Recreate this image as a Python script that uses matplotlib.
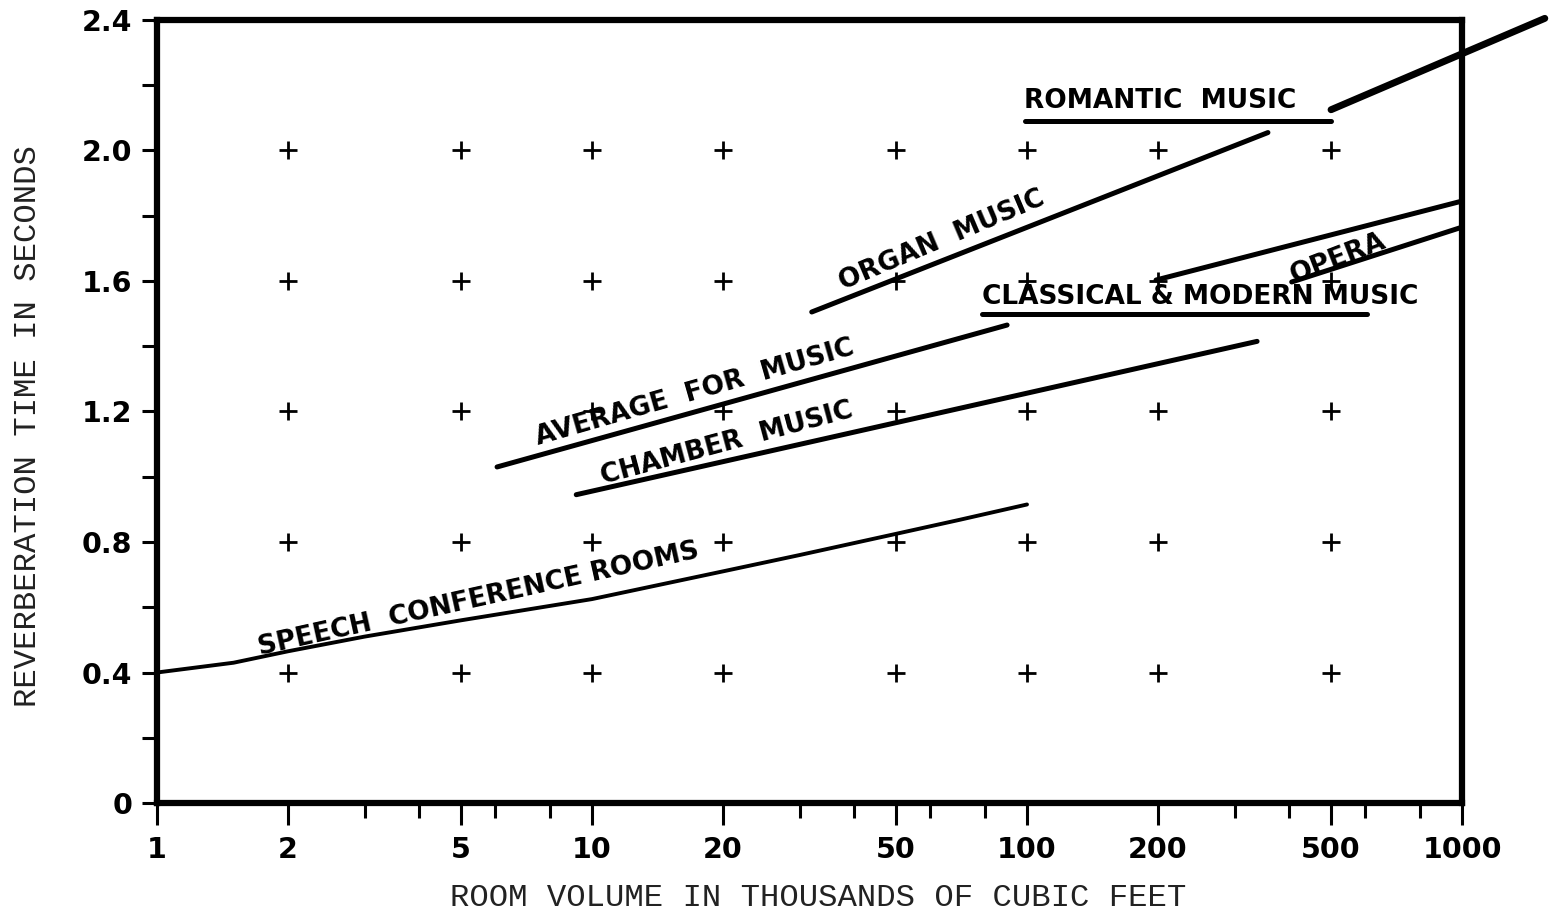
import numpy as np
import matplotlib
matplotlib.use("Agg")
import matplotlib.pyplot as plt

# ---------------- data ----------------
x_major = [1, 2, 5, 10, 20, 50, 100, 200, 500, 1000]
x_major_labels = ["1", "2", "5", "10", "20", "50", "100", "200", "500", "1000"]
x_minor = [3, 4, 6, 8, 30, 40, 60, 80, 300, 400, 600, 800]
y_ticks = [0, 0.2, 0.4, 0.6, 0.8, 1.0, 1.2, 1.4, 1.6, 1.8, 2.0, 2.2, 2.4]
y_labels = ["0", "", "0.4", "", "0.8", "", "1.2", "", "1.6", "", "2.0", "", "2.4"]

grid_x = [2, 5, 10, 20, 50, 100, 200, 500]
grid_y = [0.4, 0.8, 1.2, 1.6, 2.0]

speech_x = [1, 1.5, 2, 3, 5, 10, 20, 30, 50, 70, 100]
speech_y = [0.40, 0.43, 0.465, 0.51, 0.56, 0.625, 0.71, 0.76, 0.825, 0.868, 0.915]

average_x = [6.05, 90]
average_y = [1.03, 1.465]

chamber_x = [9.2, 338]
chamber_y = [0.945, 1.415]

organ_x = [32, 358]
organ_y = [1.505, 2.055]

romantic_flat_x = [99, 500]
romantic_flat_y = [2.09, 2.09]
romantic_x = [500, 1550]
romantic_y = [2.125, 2.405]

classical_x = [79, 605]
classical_y = [1.5, 1.5]

opera_upper_x = [198, 1000]
opera_upper_y = [1.603, 1.845]
opera_lower_x = [406, 1000]
opera_lower_y = [1.597, 1.765]

# labels: text, x, y, rotation
labels = [
    ("SPEECH  CONFERENCE ROOMS", 5.5, 0.625, 12.5),
    ("AVERAGE  FOR  MUSIC", 17.2, 1.257, 16.0),
    ("CHAMBER  MUSIC", 20.4, 1.103, 15.0),
    ("ORGAN  MUSIC", 63.8, 1.723, 23.0),
    ("ROMANTIC  MUSIC", 202, 2.152, 0.0),
    ("CLASSICAL & MODERN MUSIC", 250, 1.551, 0.0),
    ("OPERA", 519, 1.67, 21.0),
]

# ---------------- figure ----------------
fig = plt.figure(figsize=(15.51, 9.13), dpi=100)
fig.patch.set_facecolor("white")
ax = fig.add_axes([157 / 1551, 1 - 803 / 913, (1462 - 157) / 1551, (803 - 20) / 913])
ax.set_xscale("log")
ax.set_xlim(1, 1000)
ax.set_ylim(0, 2.4)

for s in ax.spines.values():
    s.set_linewidth(4.5)
    s.set_color("black")

ax.set_xticks(x_major)
ax.set_xticklabels(x_major_labels)
ax.set_xticks(x_minor, minor=True)
ax.xaxis.set_minor_formatter(matplotlib.ticker.NullFormatter())
ax.set_yticks(y_ticks)
ax.set_yticklabels(y_labels)
ax.yaxis.set_minor_locator(matplotlib.ticker.NullLocator())

tick_font = "DejaVu Sans"
ax.tick_params(axis="x", which="major", length=16, width=2.2, direction="out",
               pad=8, labelsize=20.5)
ax.tick_params(axis="x", which="minor", length=11, width=2.2, direction="out")
ax.tick_params(axis="y", which="major", length=11, width=2.2, direction="out",
               pad=7, labelsize=20.5)
for lab in ax.get_xticklabels() + ax.get_yticklabels():
    lab.set_family(tick_font)
    lab.set_fontweight("bold")

# grid crosses
gx, gy = np.meshgrid(grid_x, grid_y)
ax.plot(gx.ravel(), gy.ravel(), linestyle="none", marker="+", markersize=13,
        markeredgewidth=2.0, color="black")

lw = 3.6
ax.plot(speech_x, speech_y, color="black", lw=2.8, solid_capstyle="round",
        solid_joinstyle="round")
ax.plot(average_x, average_y, color="black", lw=lw, solid_capstyle="round")
ax.plot(chamber_x, chamber_y, color="black", lw=lw, solid_capstyle="round")
ax.plot(organ_x, organ_y, color="black", lw=lw, solid_capstyle="round")
ax.plot(romantic_flat_x, romantic_flat_y, color="black", lw=lw, solid_capstyle="round")
ax.plot(romantic_x, romantic_y, color="black", lw=5.0, solid_capstyle="round",
        clip_on=False)
ax.plot(classical_x, classical_y, color="black", lw=lw, solid_capstyle="round")
ax.plot(opera_upper_x, opera_upper_y, color="black", lw=lw, solid_capstyle="round")
ax.plot(opera_lower_x, opera_lower_y, color="black", lw=lw, solid_capstyle="round")

for text, x, y, rot in labels:
    ax.text(x, y, text, rotation=rot, rotation_mode="anchor", ha="center",
            va="center", fontsize=19, fontweight="bold", family=tick_font,
            color="black")

axis_font = "Liberation Mono"
fig.text(818 / 1551, 1 - 898 / 913, "ROOM VOLUME IN THOUSANDS OF CUBIC FEET",
         ha="center", va="center", fontsize=23.3, family=axis_font, color="#222222")
fig.text(28 / 1551, 1 - 426 / 913, "REVERBERATION TIME IN SECONDS",
         ha="center", va="center", rotation=90, fontsize=23.3, family=axis_font,
         color="#222222")

fig.savefig("out.png", dpi=100, facecolor="white")
